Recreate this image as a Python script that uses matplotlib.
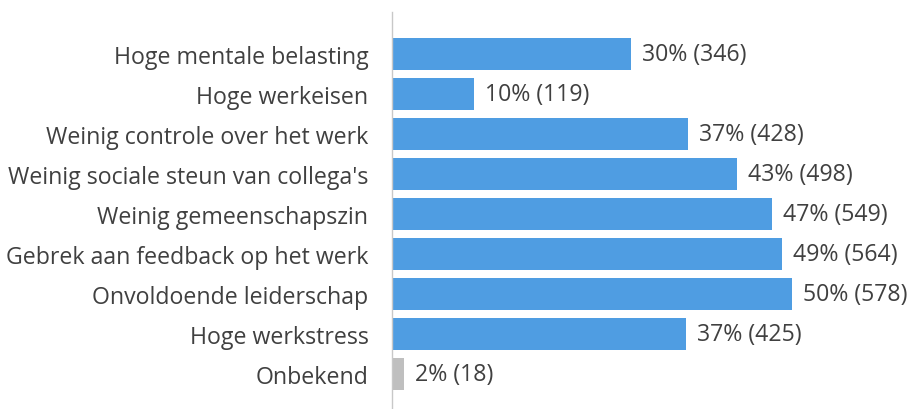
import matplotlib
matplotlib.use("Agg")
import matplotlib.pyplot as plt

categories = [
    "Hoge mentale belasting",
    "Hoge werkeisen",
    "Weinig controle over het werk",
    "Weinig sociale steun van collega's",
    "Weinig gemeenschapszin",
    "Gebrek aan feedback op het werk",
    "Onvoldoende leiderschap",
    "Hoge werkstress",
    "Onbekend",
]
counts = [346, 119, 428, 498, 549, 564, 578, 425, 18]
percentages = [30, 10, 37, 43, 47, 49, 50, 37, 2]
colors = ["#4f9de2"] * 8 + ["#bfbfbf"]

plt.rcParams['font.family'] = ['Open Sans', 'DejaVu Sans']

W, H = 917, 410
fig = plt.figure(figsize=(W / 100, H / 100), dpi=100)
ax = fig.add_axes([392 / W, 0, 1 - 392 / W, 397 / H])

y = list(range(len(categories)))
ax.barh(y, counts, height=0.8, color=colors)
px_per_unit = 0.692
ax.set_xlim(0, (W - 392) / px_per_unit)
ax.set_ylim(8.875, -1.05)

FS = 16.7
for yi, c, p in zip(y, counts, percentages):
    ax.annotate(f"{p}% ({c})", xy=(c, yi), xytext=(11, 0), textcoords="offset pixels",
                va="center", ha="left", fontsize=FS, color="#404040")

ax.set_yticks(y)
ax.set_yticklabels(categories, fontsize=FS, color="#404040")
ax.tick_params(axis="y", length=0, pad=17)
ax.set_xticks([])
for s in ["top", "right", "bottom"]:
    ax.spines[s].set_visible(False)
ax.spines["left"].set_color("#c8c8c8")
ax.spines["left"].set_linewidth(1)

fig.savefig("out.png", dpi=100, facecolor="white")
